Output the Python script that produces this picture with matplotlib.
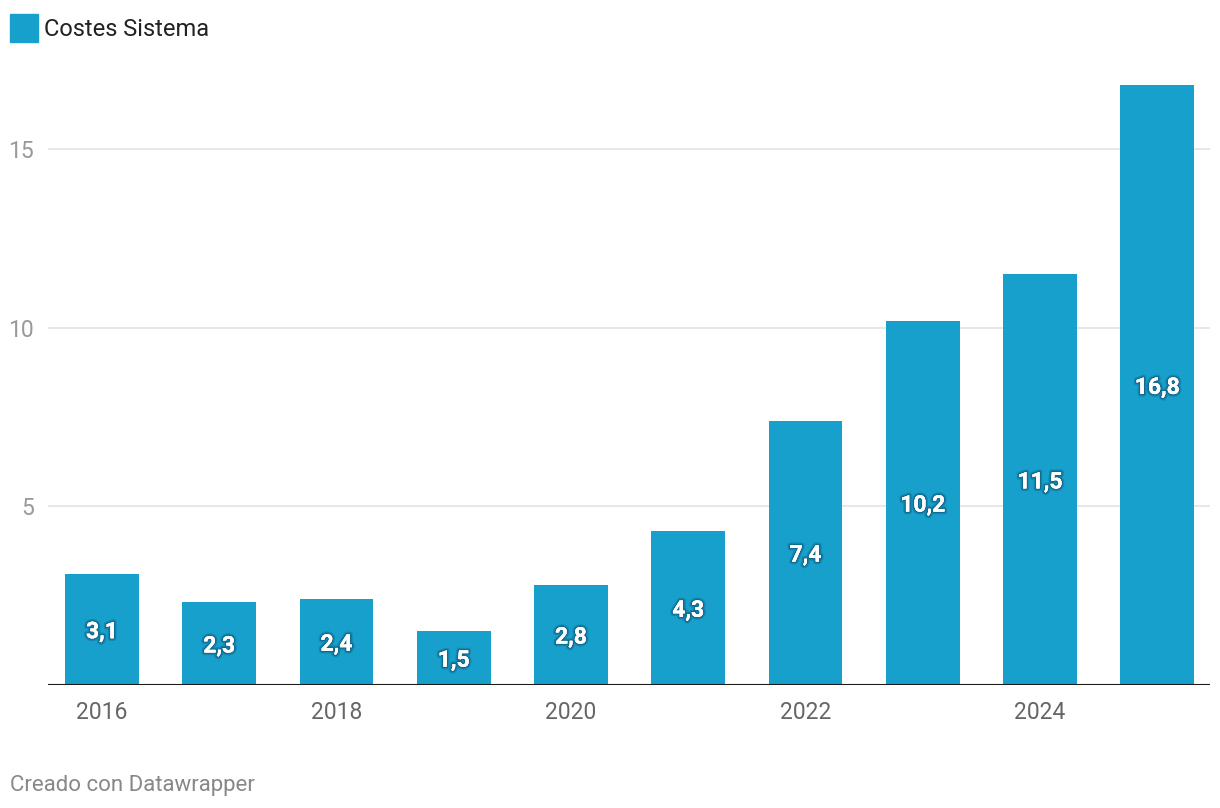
import matplotlib
matplotlib.use("Agg")
import matplotlib.pyplot as plt
import matplotlib.patheffects as pe

years = [2016, 2017, 2018, 2019, 2020, 2021, 2022, 2023, 2024, 2025]
costes = [3.1, 2.3, 2.4, 1.5, 2.8, 4.3, 7.4, 10.2, 11.5, 16.8]
labels = ["3,1", "2,3", "2,4", "1,5", "2,8", "4,3", "7,4", "10,2", "11,5", "16,8"]
yticks = [5, 10, 15]
xtick_years = [2016, 2018, 2020, 2022, 2024]
series_name = "Costes Sistema"

plt.rcParams['font.family'] = ['Roboto', 'DejaVu Sans']

W, H = 1220, 808
fig = plt.figure(figsize=(W / 100, H / 100), dpi=100)
y0 = 684.5
ytop = 60.3
ax = fig.add_axes([48 / W, (H - y0) / H, (1210 - 48) / W, (y0 - ytop) / H])

color = "#18a0cc"
x = list(range(len(years)))
ax.bar(x, costes, width=0.63, color=color, zorder=2)
ax.set_xlim(-0.46, len(years) - 1 + 0.45)
ax.set_ylim(0, 17.5)

for xi, v, lab in zip(x, costes, labels):
    ax.text(xi, v / 2, lab, ha="center", va="center_baseline", color="white",
            fontsize=16.5, fontweight="bold", zorder=3,
            path_effects=[pe.withStroke(linewidth=4, foreground=(0, 0.1, 0.2, 0.18)),
                          pe.withStroke(linewidth=2, foreground=(0, 0.1, 0.2, 0.25)),
                          pe.Normal()])

for yt in yticks:
    ax.axhline(yt, color="#e3e3e3", linewidth=1.2, zorder=1)
ax.axhline(0, color="#1a1a1a", linewidth=1.5, zorder=4)

for s in ax.spines.values():
    s.set_visible(False)
ax.set_yticks(yticks)
ax.set_yticklabels([str(t) for t in yticks], color="#999999", fontsize=16.5)
ax.tick_params(axis="y", length=0, pad=10)
ax.set_xticks([years.index(y) for y in xtick_years])
ax.set_xticklabels([str(y) for y in xtick_years], color="#666666", fontsize=16.5)
ax.tick_params(axis="x", length=0, pad=12)

# legend
fig.patches.append(matplotlib.patches.Rectangle((10 / W, (H - 42) / H), 28 / W, 28 / H,
                                                transform=fig.transFigure, color=color))
fig.text(44 / W, (H - 29) / H, series_name, ha="left", va="center",
         fontsize=17, color="#222222")

fig.text(10 / W, (H - 786) / H, "Creado con Datawrapper", ha="left", va="center",
         fontsize=16, color="#888888")

fig.savefig("out.png", dpi=100)
